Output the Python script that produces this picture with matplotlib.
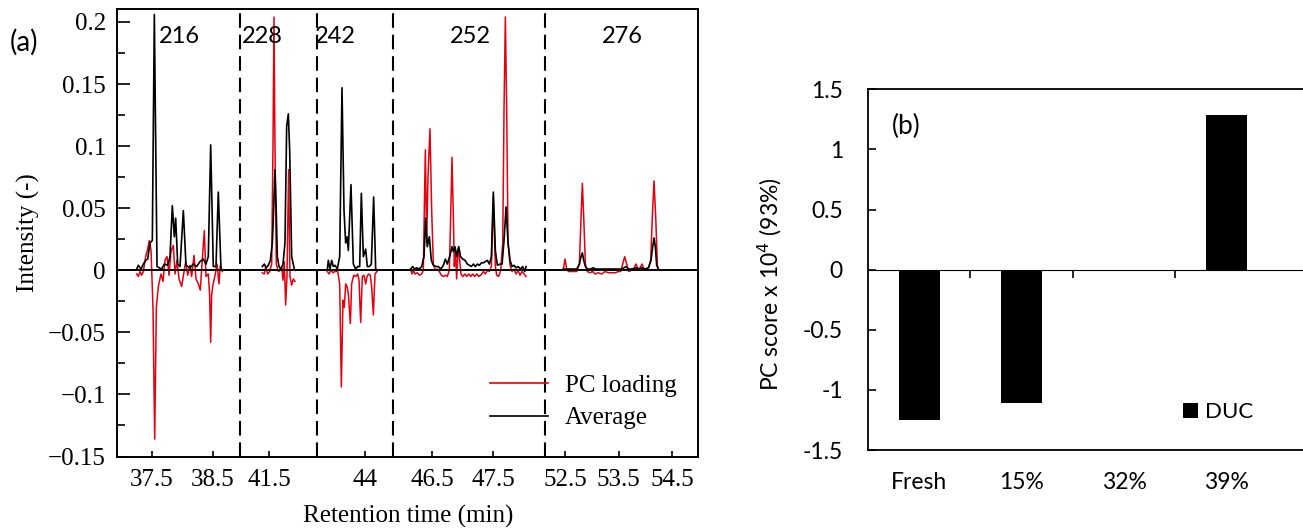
import numpy as np
import matplotlib
matplotlib.use("Agg")
import matplotlib.pyplot as plt
from matplotlib.lines import Line2D

# ---- panel (a): chromatogram segments (retention time in min, intensity) ----
seg_names = ["216", "228", "242", "252", "276"]
seg_ranges = [(36.926, 38.943), (41.025, 42.287), (43.213, 44.459),
              (45.861, 48.352), (52.126, 54.986)]

avg_216 = [(37.249, 0.001), (37.276, 0.004), (37.320, 0.001), (37.358, 0.005), (37.396, 0.008),
           (37.429, 0.009), (37.467, 0.022), (37.505, 0.024), (37.538, 0.206), (37.582, 0.003),
           (37.658, 0.001), (37.702, 0.005), (37.757, 0.004), (37.795, 0.011), (37.833, 0.052),
           (37.866, 0.027), (37.888, 0.042), (37.921, 0.005), (37.959, 0.003), (38.014, 0.048),
           (38.057, 0.004), (38.123, 0.002), (38.178, 0.005), (38.232, 0.003), (38.287, 0.007),
           (38.342, 0.009), (38.385, 0.005), (38.423, 0.011), (38.462, 0.101), (38.505, 0.003),
           (38.549, 0.003), (38.587, 0.063), (38.631, 0.001), (38.653, 0.0)]
pc_216 = [(37.249, -0.003), (37.276, -0.005), (37.303, -0.001), (37.331, -0.004), (37.358, -0.001),
          (37.396, 0.011), (37.429, 0.017), (37.456, 0.024), (37.484, 0.016), (37.516, -0.030),
          (37.544, -0.136), (37.571, -0.030), (37.604, -0.013), (37.648, -0.003), (37.680, -0.009),
          (37.713, 0.008), (37.746, 0.011), (37.779, -0.004), (37.811, 0.015), (37.850, 0.020),
          (37.877, -0.003), (37.910, 0.008), (37.943, -0.007), (37.986, -0.013), (38.019, -0.003),
          (38.052, 0.007), (38.085, -0.004), (38.123, 0.004), (38.150, -0.005), (38.189, 0.012),
          (38.221, -0.007), (38.260, -0.011), (38.292, -0.016), (38.325, 0.009), (38.358, 0.032),
          (38.385, -0.005), (38.423, -0.003), (38.445, -0.020), (38.462, -0.058), (38.478, -0.020),
          (38.495, -0.013), (38.533, -0.004), (38.566, 0.005), (38.598, -0.011), (38.620, 0.004),
          (38.653, -0.001)]

avg_228 = [(41.391, 0.003), (41.423, 0.005), (41.456, 0.002), (41.489, 0.004), (41.522, 0.008),
           (41.555, 0.022), (41.577, 0.050), (41.598, 0.081), (41.618, 0.050), (41.637, 0.011),
           (41.664, 0.003), (41.697, 0.001), (41.730, 0.005), (41.762, 0.022), (41.790, 0.116),
           (41.817, 0.126), (41.839, 0.097), (41.872, 0.011), (41.915, 0.001), (41.937, 0.0)]
pc_228 = [(41.391, -0.002), (41.423, -0.003), (41.445, 0.003), (41.478, -0.003), (41.511, -0.001),
          (41.544, 0.005), (41.566, 0.102), (41.582, 0.204), (41.598, 0.102), (41.620, 0.005),
          (41.653, -0.001), (41.686, 0.0), (41.708, 0.003), (41.730, -0.008), (41.751, 0.007),
          (41.773, -0.028), (41.795, -0.005), (41.822, 0.081), (41.844, -0.005), (41.872, -0.012),
          (41.899, -0.007), (41.926, -0.009)]

avg_242 = [(43.383, 0.001), (43.399, 0.008), (43.426, 0.001), (43.454, 0.008), (43.481, 0.003),
           (43.508, 0.004), (43.546, 0.001), (43.585, 0.011), (43.623, 0.147), (43.656, 0.048),
           (43.683, 0.022), (43.705, 0.027), (43.727, 0.016), (43.770, 0.069), (43.809, 0.005),
           (43.847, 0.001), (43.880, 0.003), (43.913, 0.003), (43.940, 0.062), (43.973, 0.011),
           (44.011, 0.017), (44.038, 0.003), (44.071, 0.003), (44.104, 0.005), (44.142, 0.059),
           (44.175, 0.001), (44.197, 0.0)]
pc_242 = [(43.383, -0.001), (43.410, -0.003), (43.443, 0.0), (43.475, -0.002), (43.508, -0.001),
          (43.552, -0.001), (43.585, -0.011), (43.612, -0.094), (43.639, -0.024), (43.661, -0.030),
          (43.683, -0.011), (43.705, -0.013), (43.727, -0.019), (43.760, -0.043), (43.781, -0.011),
          (43.814, -0.004), (43.847, -0.005), (43.880, -0.003), (43.902, -0.008), (43.929, -0.042),
          (43.956, -0.005), (43.984, -0.004), (44.011, -0.011), (44.033, -0.005), (44.060, -0.003),
          (44.087, -0.004), (44.109, -0.013), (44.137, -0.036), (44.164, -0.003), (44.197, -0.001)]

avg_252 = [(46.150, 0.001), (46.183, 0.003), (46.216, 0.001), (46.249, 0.002), (46.292, 0.001),
           (46.331, 0.003), (46.369, 0.011), (46.396, 0.042), (46.423, 0.019), (46.456, 0.027),
           (46.489, 0.008), (46.522, 0.004), (46.566, 0.003), (46.604, 0.003), (46.642, 0.001),
           (46.686, 0.004), (46.719, 0.009), (46.751, 0.005), (46.795, 0.012), (46.828, 0.019),
           (46.850, 0.015), (46.877, 0.019), (46.904, 0.011), (46.937, 0.019), (46.970, 0.011),
           (47.003, 0.009), (47.041, 0.008), (47.079, 0.005), (47.112, 0.004), (47.145, 0.003),
           (47.178, 0.005), (47.210, 0.003), (47.243, 0.005), (47.276, 0.004), (47.309, 0.006),
           (47.342, 0.006), (47.374, 0.007), (47.407, 0.008), (47.440, 0.005), (47.473, 0.011),
           (47.505, 0.063), (47.538, 0.016), (47.571, 0.004), (47.615, 0.005), (47.648, 0.005),
           (47.680, 0.024), (47.713, 0.051), (47.746, 0.022), (47.779, 0.008), (47.811, 0.003),
           (47.844, 0.004), (47.877, 0.002), (47.910, 0.003), (47.954, 0.001), (47.986, 0.003),
           (48.019, -0.001), (48.041, 0.003)]
pc_252 = [(46.150, 0.001), (46.172, -0.003), (46.194, 0.0), (46.221, -0.003), (46.260, -0.002),
          (46.292, -0.004), (46.331, -0.003), (46.358, 0.0), (46.374, 0.048), (46.391, 0.097),
          (46.413, 0.022), (46.434, 0.075), (46.467, 0.114), (46.495, 0.048), (46.522, 0.005),
          (46.555, 0.0), (46.587, 0.001), (46.620, -0.001), (46.653, -0.004), (46.686, -0.005),
          (46.719, -0.004), (46.751, -0.005), (46.784, 0.0), (46.806, 0.043), (46.828, 0.091),
          (46.850, 0.043), (46.866, 0.003), (46.883, 0.017), (46.904, -0.007), (46.921, 0.011),
          (46.937, 0.019), (46.954, 0.008), (46.975, -0.003), (47.003, -0.005), (47.041, -0.003),
          (47.068, -0.005), (47.101, -0.003), (47.134, -0.005), (47.167, -0.003), (47.199, -0.005),
          (47.232, -0.003), (47.265, -0.005), (47.298, -0.004), (47.342, -0.001), (47.374, -0.003),
          (47.407, 0.0), (47.440, -0.001), (47.473, 0.003), (47.505, 0.059), (47.538, 0.003),
          (47.560, -0.004), (47.593, -0.005), (47.626, 0.0), (47.659, 0.022), (47.680, 0.129),
          (47.702, 0.204), (47.724, 0.129), (47.746, 0.022), (47.779, 0.004), (47.811, -0.001),
          (47.844, 0.001), (47.877, -0.003), (47.910, 0.0), (47.943, -0.004), (47.975, -0.001),
          (48.008, -0.003), (48.041, -0.005)]

avg_276 = [(52.469, 0.001), (52.506, 0.001), (52.544, 0.001), (52.593, 0.001), (52.656, 0.001),
           (52.718, 0.001), (52.768, 0.005), (52.799, 0.011), (52.824, 0.014), (52.849, 0.008),
           (52.880, 0.003), (52.917, 0.001), (52.967, 0.001), (53.030, 0.002), (53.067, 0.001),
           (53.154, 0.001), (53.279, 0.001), (53.403, 0.001), (53.466, 0.001), (53.559, 0.001),
           (53.603, 0.002), (53.640, 0.003), (53.684, 0.001), (53.777, 0.001), (53.827, 0.002),
           (53.871, 0.001), (53.933, 0.002), (53.995, 0.001), (54.058, 0.002), (54.107, 0.008),
           (54.139, 0.019), (54.164, 0.026), (54.188, 0.019), (54.213, 0.004), (54.245, 0.001)]
pc_276 = [(52.469, 0.001), (52.500, 0.009), (52.531, 0.001), (52.562, -0.001), (52.606, -0.001),
          (52.656, -0.001), (52.718, -0.001), (52.768, 0.005), (52.799, 0.043), (52.824, 0.070),
          (52.849, 0.043), (52.880, 0.005), (52.917, -0.001), (52.967, -0.002), (53.017, -0.001),
          (53.061, -0.003), (53.123, -0.002), (53.185, -0.003), (53.248, -0.001), (53.310, -0.002),
          (53.372, -0.002), (53.435, -0.002), (53.497, -0.001), (53.540, -0.001), (53.578, 0.005),
          (53.615, 0.011), (53.653, 0.005), (53.690, -0.001), (53.740, 0.0), (53.790, 0.002),
          (53.827, 0.005), (53.864, 0.001), (53.902, 0.002), (53.939, 0.005), (53.976, 0.001),
          (54.014, 0.0), (54.064, 0.002), (54.101, 0.008), (54.132, 0.043), (54.164, 0.072),
          (54.195, 0.043), (54.226, 0.004), (54.251, 0.0)]

pc_traces = [pc_216, pc_228, pc_242, pc_252, pc_276]
avg_traces = [avg_216, avg_228, avg_242, avg_252, avg_276]

time_ticks = [(37.5, 0), (38.5, 0), (41.5, 1), (44, 2), (46.5, 3), (47.5, 3),
              (52.5, 4), (53.5, 4), (54.5, 4)]
time_tick_labels = ["37.5", "38.5", "41.5", "44", "46.5", "47.5", "52.5", "53.5", "54.5"]
int_ticks = [0.2, 0.15, 0.1, 0.05, 0, -0.05, -0.1, -0.15]
int_tick_labels = ["0.2", "0.15", "0.1", "0.05", "0", "\u22120.05", "\u22120.1", "\u22120.15"]

# ---- panel (b): PC scores ----
samples = ["Fresh", "15%", "32%", "39%"]
pc_score = [-1.248, -1.110, 0.0, 1.284]
score_ticks = [1.5, 1, 0.5, 0, -0.5, -1, -1.5]
score_tick_labels = ["1.5", "1", "0.5", "0", "-0.5", "-1", "-1.5"]

# layout: where each broken-axis segment sits along panel (a) (axes fraction)
seg_pos = [0.0, 0.2117, 0.3442, 0.4750, 0.7367, 1.0]


def to_u(t, k):
    lo, hi = seg_ranges[k]
    return seg_pos[k] + (np.asarray(t) - lo) / (hi - lo) * (seg_pos[k + 1] - seg_pos[k])


SERIF = "Liberation Serif"
SANS = "Lato"
RED = "#e3000f"

fig = plt.figure(figsize=(13.03, 5.31), dpi=100)

# ================= (a) =================
ax = fig.add_axes([0.0898, 0.1403, 0.4459, 0.8422])
for k in range(5):
    d = np.array(pc_traces[k])
    ax.plot(to_u(d[:, 0], k), d[:, 1], color=RED, lw=1.1, zorder=3)
for k in range(5):
    d = np.array(avg_traces[k])
    ax.plot(to_u(d[:, 0], k), d[:, 1], color="black", lw=1.2, zorder=4)

ax.axhline(0, color="black", lw=1.4, zorder=5)
for p in seg_pos[1:-1]:
    ax.axvline(p, color="black", lw=1.5, linestyle=(0, (7, 3.3)), zorder=2)

ax.set_xlim(0, 1)
ax.set_ylim(-0.15, 0.2102)

ax.set_xticks([to_u(t, k) for t, k in time_ticks])
ax.set_xticklabels(time_tick_labels, fontfamily=SERIF, fontsize=18)
ax.set_xticks(seg_pos[1:-1], minor=True)
ax.set_yticks(int_ticks)
ax.set_yticklabels(int_tick_labels, fontfamily=SERIF, fontsize=18)
ax.set_yticks(np.arange(-0.125, 0.2, 0.05), minor=True)
ax.tick_params(axis="x", which="major", direction="in", length=4.5, width=1.2, pad=9)
ax.tick_params(axis="x", which="minor", direction="in", length=7.5, width=1.2)
ax.tick_params(axis="y", which="major", direction="in", length=9, width=1.2, pad=8)
ax.tick_params(axis="y", which="minor", direction="in", length=5.5, width=1.2)
for s in ax.spines.values():
    s.set_linewidth(1.4)

ax.set_xlabel("Retention time (min)", fontfamily=SERIF, fontsize=18)
ax.xaxis.set_label_coords(0.501, -0.108)
ax.set_ylabel("Intensity (-)", fontfamily=SERIF, fontsize=18)
ax.yaxis.set_label_coords(-0.132, 0.50)

label_u = [0.108, 0.2496, 0.375, 0.6076, 0.869]
for name, u in zip(seg_names, label_u):
    ax.text(u, 0.188, name, ha="center", va="center", fontfamily=SANS, fontsize=17)

handles = [Line2D([], [], color=RED, lw=1.2), Line2D([], [], color="black", lw=1.2)]
leg = ax.legend(handles, ["PC loading", "Average"], loc="center left",
                bbox_to_anchor=(0.642, 0.122), frameon=False, borderpad=0,
                borderaxespad=0, handlelength=2.3, handletextpad=0.7,
                labelspacing=0.4, prop={"family": SERIF, "size": 18})

fig.text(0.0077, 0.921, "(a)", fontfamily=SANS, fontsize=20, va="center", ha="left")

# ================= (b) =================
bx = fig.add_axes([0.6661, 0.1525, 0.3461, 0.6793])
xpos = np.arange(len(samples))
bx.bar(xpos, pc_score, width=0.4, color="black", label="DUC", zorder=3)
bx.set_xlim(-0.5, 3.9)
bx.set_ylim(-1.5, 1.5)
bx.set_xticks(xpos)
bx.set_xticklabels(samples, fontfamily=SANS, fontsize=16.5)
bx.tick_params(axis="x", length=0, pad=16)
bx.set_yticks(score_ticks)
bx.set_yticklabels(score_tick_labels, fontfamily=SANS, fontsize=16.5)
bx.tick_params(axis="y", direction="in", length=6, width=1.2, pad=18)
for s in bx.spines.values():
    s.set_linewidth(1.3)

# category axis crossing at zero with ticks between categories
zero_axis = bx.secondary_xaxis(0.5)
zero_axis.set_xticks(xpos[:-1] + 0.5)
zero_axis.set_xticklabels([])
zero_axis.tick_params(direction="in", length=6, width=1.2)
zero_axis.spines["bottom"].set_linewidth(1.3)

bx.set_ylabel("PC score x 10$^4$ (93%)", fontfamily=SANS, fontsize=16.5)
bx.yaxis.set_label_coords(-0.185, 0.46)
bx.text(0.053, 0.898, "(b)", transform=bx.transAxes, fontfamily=SANS, fontsize=19,
        va="center", ha="left")
bx.legend(loc="center left", bbox_to_anchor=(0.8995, 0.2241), bbox_transform=fig.transFigure,
          frameon=False, borderpad=0, handlelength=0.65, handleheight=0.65,
          handletextpad=0.35, prop={"family": SANS, "size": 16})

fig.savefig("out.png", dpi=100)
